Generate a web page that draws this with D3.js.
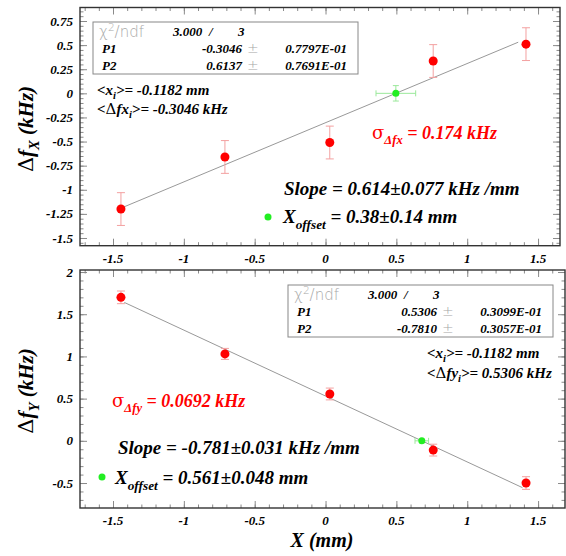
<!DOCTYPE html>
<html>
<head>
<meta charset="utf-8">
<script src="https://cdn.jsdelivr.net/npm/d3@7"></script>
<style>
  body { margin: 0; background: #fff; }
  text { font-family: "Liberation Serif", serif; font-weight: bold; font-style: italic; }
</style>
</head>
<body>
<svg id="chart" width="566" height="556"></svg>
<script>
// measured positions (mm) and frequency shifts (kHz)
const xPos = [-1.444, -0.71, 0.03, 0.76, 1.415];
const dfX = [-1.20, -0.66, -0.51, 0.335, 0.51];
const dfXErr = [0.17, 0.17, 0.17, 0.17, 0.17];
const dfY = [1.70, 1.03, 0.555, -0.11, -0.50];
const dfYErr = [0.075, 0.065, 0.07, 0.07, 0.075];

// fit parameters  P1 + P2*x
const fitX = [-0.3046, 0.6137];
const fitXErr = ["0.7797E-01", "0.7691E-01"];
const fitY = [0.5306, -0.7810];
const fitYErr = ["0.3099E-01", "0.3057E-01"];
const fitRangeX = [-1.43, 1.36];
const fitRangeY = [-1.42, 1.39];
const offsetErrX = 0.14, offsetErrY = 0.048;

const xTicks = [-1.5, -1, -0.5, 0, 0.5, 1, 1.5];
const yTicksTop = [-1.5, -1.25, -1, -0.75, -0.5, -0.25, 0, 0.25, 0.5, 0.75];
const yTicksBot = [-0.5, 0, 0.5, 1, 1.5, 2];

const svg = d3.select("#chart");
svg.append("rect").attr("width", 566).attr("height", 556).attr("fill", "#fff");

const fmt = d => String(+d.toFixed(2)).replace("\u2212", "-");

// text with sub/superscripts
function rich(sel, x, y, parts, size, opts = {}) {
  const t = sel.append("text").attr("x", x).attr("y", y)
    .attr("font-size", size).attr("fill", opts.color || "#000")
    .attr("text-anchor", opts.anchor || "start");
  if (opts.transform) t.attr("transform", opts.transform);
  let shift = 0;
  parts.forEach(p => {
    if (typeof p === "string") p = {t: p};
    const target = p.sub ? size * (opts.subShift || 0.3) : p.sup ? -size * 0.4 : 0;
    const ts = t.append("tspan").attr("dy", target - shift).text(p.t);
    shift = target;
    if (p.sub || p.sup) ts.attr("font-size", size * 0.7);
    if (p.sym) ts.style("font-family", "'DejaVu Serif', serif").style("font-style", "normal").style("font-weight", "normal");
    if (p.sans) ts.style("font-family", "'DejaVu Sans', sans-serif").style("font-style", "normal").style("font-weight", 200);
    if (p.color) ts.attr("fill", p.color);
  });
  return t;
}

function panel(cfg) {
  const g = svg.append("g");
  const x = d3.scaleLinear().domain(cfg.xDom).range([80, cfg.right]);
  const y = d3.scaleLinear().domain(cfg.yDom).range([cfg.bottom, cfg.top]);
  const W = cfg.right - 80, H = cfg.bottom - cfg.top;

  const xMinor = d3.range(-17, 17).map(d => d / 10).filter(d => d >= cfg.xDom[0] && d <= cfg.xDom[1]);
  const yMinor = d3.range(Math.ceil(cfg.yDom[0] / cfg.yMinorStep), Math.floor(cfg.yDom[1] / cfg.yMinorStep) + 1)
    .map(d => +(d * cfg.yMinorStep).toFixed(3));

  const tickStyle = a => a.call(s => s.select(".domain").remove())
    .call(s => s.selectAll(".tick line").attr("stroke", "#8a8a8a"));

  // major/minor ticks on all four sides, pointing inward
  [[d3.axisBottom, cfg.bottom], [d3.axisTop, cfg.top]].forEach(([ax, pos]) => {
    g.append("g").attr("transform", `translate(0,${pos})`)
      .call(ax(x).tickValues(xMinor).tickSize(-3.5).tickFormat("")).call(tickStyle);
    g.append("g").attr("transform", `translate(0,${pos})`)
      .call(ax(x).tickValues(xTicks).tickSize(-7).tickFormat("")).call(tickStyle);
  });
  [[d3.axisLeft, 80], [d3.axisRight, cfg.right]].forEach(([ax, pos]) => {
    g.append("g").attr("transform", `translate(${pos},0)`)
      .call(ax(y).tickValues(yMinor).tickSize(-3.5).tickFormat("")).call(tickStyle);
    g.append("g").attr("transform", `translate(${pos},0)`)
      .call(ax(y).tickValues(cfg.yTicks).tickSize(-7).tickFormat("")).call(tickStyle);
  });

  // tick labels
  g.selectAll(".xl").data(xTicks).join("text").attr("class", "xl")
    .attr("x", d => x(d)).attr("y", cfg.bottom + 17).attr("text-anchor", "middle")
    .attr("font-size", 13).text(fmt);
  g.selectAll(".yl").data(cfg.yTicks).join("text").attr("class", "yl")
    .attr("x", 73).attr("y", d => y(d)).attr("dy", "0.35em").attr("text-anchor", "end")
    .attr("font-size", 13).text(fmt);

  g.append("rect").attr("x", 80).attr("y", cfg.top).attr("width", W).attr("height", H)
    .attr("fill", "none").attr("stroke", "#333").attr("stroke-width", 1.4);

  // fit line
  const [p1, p2] = cfg.fit;
  const line = d3.line().x(d => x(d)).y(d => y(p1 + p2 * d));
  g.append("path").attr("d", line(cfg.fitRange)).attr("stroke", "#999").attr("stroke-width", 1).attr("fill", "none");

  // error bars + points
  const pts = xPos.map((d, i) => ({x: d, y: cfg.vals[i], e: cfg.errs[i]}));
  const eb = g.selectAll(".eb").data(pts).join("g").attr("class", "eb").attr("stroke", "#f3a0a0").attr("stroke-width", 1);
  eb.append("line").attr("x1", d => x(d.x)).attr("x2", d => x(d.x)).attr("y1", d => y(d.y - d.e)).attr("y2", d => y(d.y + d.e));
  eb.append("line").attr("x1", d => x(d.x) - 4).attr("x2", d => x(d.x) + 4).attr("y1", d => y(d.y - d.e)).attr("y2", d => y(d.y - d.e));
  eb.append("line").attr("x1", d => x(d.x) - 4).attr("x2", d => x(d.x) + 4).attr("y1", d => y(d.y + d.e)).attr("y2", d => y(d.y + d.e));
  g.selectAll(".pt").data(pts).join("circle").attr("class", "pt")
    .attr("cx", d => x(d.x)).attr("cy", d => y(d.y)).attr("r", 4.5).attr("fill", "#ff0000");

  // zero crossing point
  const x0 = -p1 / p2;
  const ge = g.append("g").attr("stroke", "#9be89b").attr("stroke-width", 1);
  ge.append("line").attr("x1", x(x0 - cfg.offErr)).attr("x2", x(x0 + cfg.offErr)).attr("y1", y(0)).attr("y2", y(0));
  [x0 - cfg.offErr, x0 + cfg.offErr].forEach(v =>
    ge.append("line").attr("x1", x(v)).attr("x2", x(v)).attr("y1", y(0) - 3).attr("y2", y(0) + 3));
  if (cfg.offYErr) {
    ge.append("line").attr("x1", x(x0)).attr("x2", x(x0)).attr("y1", y(-cfg.offYErr)).attr("y2", y(cfg.offYErr));
    [-cfg.offYErr, cfg.offYErr].forEach(v =>
      ge.append("line").attr("x1", x(x0) - 3).attr("x2", x(x0) + 3).attr("y1", y(v)).attr("y2", y(v)));
  }
  g.append("circle").attr("cx", x(x0)).attr("cy", y(0)).attr("r", 3.5).attr("fill", "#22ee22");

  // stats box
  const bx = cfg.box[0], by = cfg.box[1];
  g.append("rect").attr("x", bx).attr("y", by).attr("width", 265).attr("height", 52)
    .attr("fill", "#fff").attr("stroke", "#888").attr("stroke-width", 1);
  rich(g, bx + 6, by + 15, [{t: "\u03c7", sans: true}, {t: "2", sup: true, sans: true}, {t: "/ndf", sans: true}], 15, {color: "#a8a8a8"});
  g.append("text").attr("x", bx + 80).attr("y", by + 14).attr("font-size", 13).text("3.000");
  g.append("text").attr("x", bx + 116).attr("y", by + 14).attr("font-size", 13).text("/");
  g.append("text").attr("x", bx + 145).attr("y", by + 14).attr("font-size", 13).text("3");
  ["P1", "P2"].forEach((name, i) => {
    const yy = by + 31 + i * 17;
    g.append("text").attr("x", bx + 9).attr("y", yy).attr("font-size", 13).text(name);
    g.append("text").attr("x", bx + 149).attr("y", yy).attr("font-size", 13).attr("text-anchor", "end").text(cfg.fit[i].toFixed(4));
    g.append("text").attr("x", bx + 154).attr("y", yy).attr("font-size", 14).attr("fill", "#a8a8a8")
      .style("font-family", "'DejaVu Sans', sans-serif").style("font-style", "normal").style("font-weight", 200).text("\u00b1");
    g.append("text").attr("x", bx + 254).attr("y", yy).attr("font-size", 13).attr("text-anchor", "end").text(cfg.fitErr[i]);
  });
  return g;
}

const gTop = panel({
  xDom: [-1.733, 1.655], right: 560, yDom: [-1.58, 0.89], top: 7.5, bottom: 245.7,
  yTicks: yTicksTop, yMinorStep: 0.05, vals: dfX, errs: dfXErr,
  fit: fitX, fitErr: fitXErr, fitRange: fitRangeX, offErr: offsetErrX, offYErr: 0.08, box: [93, 22]
});
const gBot = panel({
  xDom: [-1.733, 1.69], right: 565, yDom: [-0.796, 2.024], top: 270, bottom: 508,
  yTicks: yTicksBot, yMinorStep: 0.1, vals: dfY, errs: dfYErr,
  fit: fitY, fitErr: fitYErr, fitRange: fitRangeY, offErr: offsetErrY, offYErr: 0, box: [288, 285]
});

// annotations, top panel
rich(svg, 97, 95, ["<x", {t: "i", sub: true}, ">= -0.1182 mm"], 15, {subShift: 0.25});
rich(svg, 97, 114, ["<", {t: "\u0394", sym: true}, "fx", {t: "i", sub: true}, ">= -0.3046 kHz"], 15, {subShift: 0.25});
rich(svg, 372, 139, [{t: "\u03c3", sym: true}, {t: "\u0394fx", sub: true}, " = 0.174 kHz"], 18, {color: "#ff0000"});
rich(svg, 284, 195, ["Slope = 0.614\u00b10.077 kHz /mm"], 19);
svg.append("circle").attr("cx", 268).attr("cy", 217).attr("r", 3.5).attr("fill", "#22ee22");
rich(svg, 283, 223, ["X", {t: "offset", sub: true}, " = 0.38\u00b10.14 mm"], 19);

// annotations, bottom panel
rich(svg, 427, 358, ["<x", {t: "i", sub: true}, ">= -0.1182 mm"], 15, {subShift: 0.25});
rich(svg, 427, 378, ["<", {t: "\u0394", sym: true}, "fy", {t: "i", sub: true}, ">= 0.5306 kHz"], 15, {subShift: 0.25});
rich(svg, 112, 407, [{t: "\u03c3", sym: true}, {t: "\u0394fy", sub: true}, " = 0.0692 kHz"], 18, {color: "#ff0000"});
rich(svg, 118, 454, ["Slope = -0.781\u00b10.031 kHz /mm"], 19);
svg.append("circle").attr("cx", 102).attr("cy", 477).attr("r", 3.5).attr("fill", "#22ee22");
rich(svg, 115, 484, ["X", {t: "offset", sub: true}, " = 0.561\u00b10.048 mm"], 19);

// axis titles
rich(svg, 0, 0, [{t: "\u0394", sym: true}, "f", {t: "X", sub: true}, " (kHz)"], 21, {anchor: "middle", transform: "translate(33,129) rotate(-90)"});
rich(svg, 0, 0, [{t: "\u0394", sym: true}, "f", {t: "Y", sub: true}, " (kHz)"], 21, {anchor: "middle", transform: "translate(33,391) rotate(-90)"});
rich(svg, 322, 547, ["X (mm)"], 20, {anchor: "middle"});
</script>
</body>
</html>
